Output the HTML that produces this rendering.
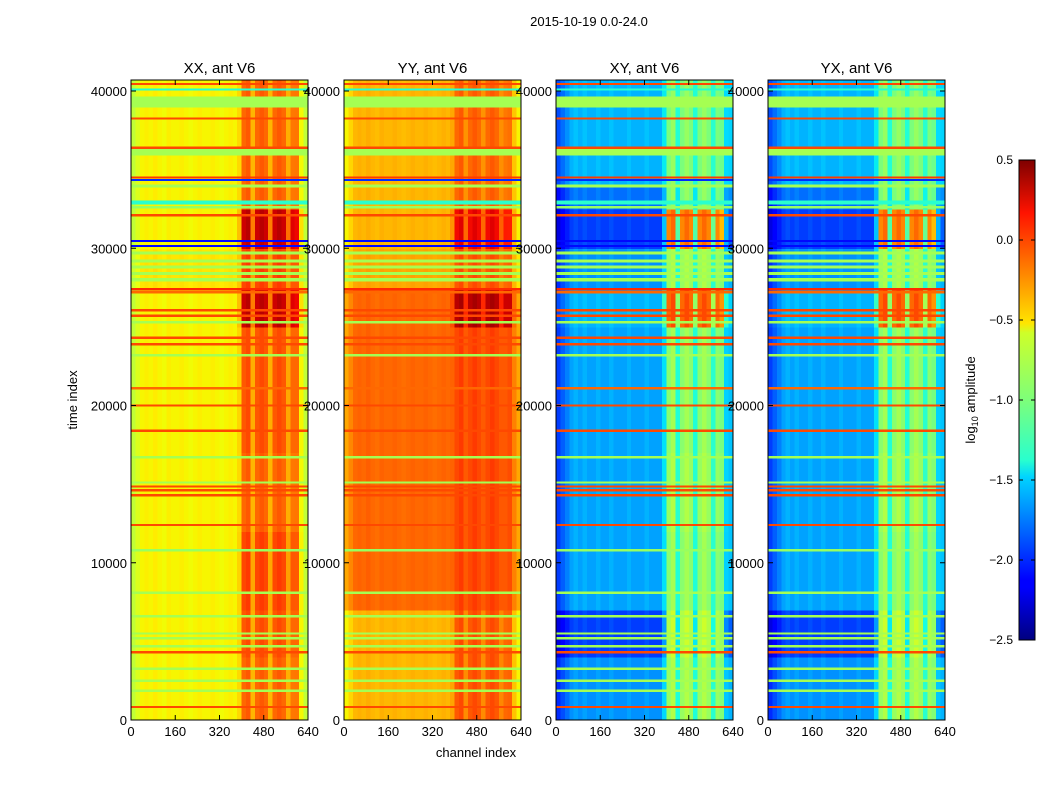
<!DOCTYPE html>
<html><head><meta charset="utf-8"><style>
body{margin:0;background:#fff;}
svg{display:block;font-family:"Liberation Sans","DejaVu Sans",sans-serif;}
</style></head><body>
<svg id="chart" width="1050" height="800" viewBox="0 0 1050 800" xmlns="http://www.w3.org/2000/svg">
<defs>
<linearGradient id="jet" x1="0" y1="1" x2="0" y2="0">
<stop offset="0" stop-color="#00007f"/><stop offset="0.11" stop-color="#0000ff"/>
<stop offset="0.125" stop-color="#0000ff"/><stop offset="0.34" stop-color="#00d4ff"/>
<stop offset="0.375" stop-color="#29ffce"/><stop offset="0.5" stop-color="#7dff7a"/>
<stop offset="0.64" stop-color="#ceff29"/><stop offset="0.66" stop-color="#ffe500"/>
<stop offset="0.89" stop-color="#ff1300"/><stop offset="1" stop-color="#7f0000"/>
</linearGradient>
</defs>
<text x="589" y="26" font-size="13" text-anchor="middle">2015-10-19 0.0-24.0</text>
<text transform="translate(77,400) rotate(-90)" font-size="13" text-anchor="middle">time index</text>
<text x="476" y="757" font-size="13" text-anchor="middle">channel index</text>
<g id="panels"></g>
<g>
<rect x="1019" y="160" width="16" height="480" fill="url(#jet)" stroke="#000" stroke-width="1"/>
<g id="cbticks"></g>
<text transform="translate(975,400) rotate(-90)" font-size="13" text-anchor="middle">log<tspan font-size="9" dy="3">10</tspan><tspan dy="-3"> amplitude</tspan></text>
</g>
</svg>
<script>
// ---- data ----
const panelTitles = ["XX, ant V6","YY, ant V6","XY, ant V6","YX, ant V6"];
const xTicks = [0,160,320,480,640];
const yTicks = [0,10000,20000,30000,40000];
const cbTicks = [-2.5,-2.0,-1.5,-1.0,-0.5,0.0,0.5];
const segBounds = [0,4000,7000,12000,17000,25000,27500,30000,32500,34000,40700];
// column weight per 16-channel bin: 1 = RFI band, fractional = narrow gap
const rfiMask = [0,0,0,0,0,0,0,0,0,0,0,0,0,0,0,0,0,0,0,0,0,0,0,0,0.2,1,1,0.45,1,1,1,0.45,1,1,1,0.5,1,0.9,0.2,0];
const colVarAuto = [-0.2,-0.1,0,0.02,0,0.03,0,-0.02,0.02,0,0,0.02,0,-0.02,0,0.02,0,0,0.02,0,-0.02,0,0.02,0,0,0,0.05,0,0,0.05,0,0,0,0.05,0,0,-0.05,0,-0.1,-0.2];
const colVarCross = [-0.3,-0.2,-0.1,0,0.05,0,0.05,0,0,0.05,0,0,0.05,0,0,0,0.05,0,0,0,0.05,0,0,0,0.05,0,0.1,0,0,0.1,0,0,0,0.1,0,0,0,0,0,0.1];
const baseXX = [-0.55,-0.55,-0.55,-0.55,-0.55,-0.55,-0.5,-0.55,-0.55,-0.55];
const rfiXX  = [-0.1,-0.05,0,-0.1,-0.05,0.3,0,0.3,-0.1,-0.1];
const baseYY = [-0.35,-0.35,-0.1,-0.1,-0.1,-0.1,-0.3,-0.35,-0.35,-0.35];
const rfiYY  = [-0.05,-0.05,0,0,0,0.35,-0.05,0.2,-0.1,-0.1];
const baseXY = [-1.7,-1.95,-1.65,-1.65,-1.65,-1.6,-1.7,-1.95,-1.8,-1.6];
const rfiXY  = [-0.9,-0.8,-0.95,-0.9,-0.95,-0.1,-0.9,-0.2,-1.0,-1.0];
const baseYX = [-1.7,-1.95,-1.65,-1.65,-1.65,-1.6,-1.7,-1.95,-1.8,-1.6];
const rfiYX  = [-0.9,-0.8,-0.95,-0.9,-0.95,-0.1,-0.9,-0.2,-1.0,-1.0];
// flagged rows: [time, height, log10 value]
const stripes = [[40450,150,0.0],[40100,150,-1.3],[39300,700,-0.85],[38250,150,0.0],[36400,150,0.0],[36100,400,-0.85],[34500,150,0.05],[34350,120,-2.0],[33950,200,-0.85],[32900,250,-1.3],[32600,150,-0.9],[32100,150,0.0],[30450,120,-2.1],[30150,120,-2.1],[29700,200,-0.85],[29200,200,-0.85],[28800,200,-0.85],[28400,200,-0.85],[28000,200,-0.85],[27400,150,0.1],[27200,150,-0.1],[26050,150,0.0],[25700,150,0.0],[25300,150,-0.85],[24300,150,0.0],[23900,150,0.0],[23200,150,-0.85],[21100,150,-0.1],[20000,150,0.0],[18400,150,0.0],[16700,150,-0.85],[15100,150,-0.85],[14850,150,0.0],[14600,150,0.0],[14300,150,0.0],[12400,150,0.0],[10800,150,-0.9],[8100,150,-0.85],[6600,150,-0.85],[5500,150,-0.85],[5200,150,-0.85],[4700,150,-0.85],[4300,150,0.0],[3250,150,-0.85],[2500,150,-0.85],[1850,150,-0.85],[830,150,0.0]];

const panelBase = [baseXX,baseYY,baseXY,baseYX];
const panelRfi = [rfiXX,rfiYY,rfiXY,rfiYX];
const panelColVar = [colVarAuto,colVarAuto,colVarCross,colVarCross];

// ---- layout ----
const panelX = [131,344,556,768], PW=177, TOP=80, BOT=720, TMAX=40700, CMAX=640, VMIN=-2.5, VMAX=0.5;
const NS="http://www.w3.org/2000/svg";
function xs(px,c){return px + c/CMAX*PW;}
function ys(t){return BOT - t/TMAX*(BOT-TOP);}
function jet(v){
  let x=(v-VMIN)/(VMAX-VMIN); x=Math.max(0,Math.min(1,x));
  const f=(a)=>Math.max(0,Math.min(1,a));
  const r=f(x<0.35?0:x<0.66?(x-0.35)/0.31:x<0.89?1:1-(x-0.89)/0.11*0.5);
  const g=f(x<0.125?0:x<0.375?(x-0.125)/0.25:x<0.64?1:x<0.91?1-(x-0.64)/0.27:0);
  const b=f(x<0.11?0.5+x/0.11*0.5:x<0.34?1:x<0.65?1-(x-0.34)/0.31:0);
  return `rgb(${Math.round(r*255)},${Math.round(g*255)},${Math.round(b*255)})`;
}
function mk(tag,attrs,parent){const e=document.createElementNS(NS,tag);for(const k in attrs)e.setAttribute(k,attrs[k]);parent.appendChild(e);return e;}

const G=document.getElementById('panels');
panelTitles.forEach((title,p)=>{
  const px=panelX[p];
  const g=mk('g',{},G);
  
  
  const hm=mk('g',{'shape-rendering':'crispEdges'},g);
  
  
  const bw=CMAX/rfiMask.length;
  for(let s=0;s<segBounds.length-1;s++){
    for(let c=0;c<rfiMask.length;c++){
      const b=panelBase[p][s], rf=panelRfi[p][s];
      const v=b+rfiMask[c]*(rf-b)+panelColVar[p][c];
      const x0=xs(px,c*bw), x1=xs(px,(c+1)*bw), y0=ys(segBounds[s+1]), y1=ys(segBounds[s]);
      const r=mk('rect',{x:x0,y:y0,width:x1-x0+0.5,height:y1-y0+0.5,fill:jet(v)},hm);
      
      
    }
  }
  stripes.forEach(st=>{
    const y0=ys(st[0]+st[1]/2), y1=ys(st[0]-st[1]/2);
    const r=mk('rect',{x:px,y:y0,width:PW,height:Math.max(1.5,y1-y0),fill:jet(st[2])},hm);
    
    
  });
  const fr=mk('rect',{x:px,y:TOP,width:PW,height:BOT-TOP,fill:'none',stroke:'#000','stroke-width':1},g);
  
  
  const t=mk('text',{x:px+PW/2,y:TOP-7,'font-size':15,'text-anchor':'middle'},g);
  t.textContent=title;
  
  
  xTicks.forEach(c=>{
    const x=xs(px,c);
    mk('line',{x1:x,x2:x,y1:BOT,y2:BOT-5,stroke:'#000'},g);
    mk('line',{x1:x,x2:x,y1:TOP,y2:TOP+5,stroke:'#000'},g);
    const l=mk('text',{x:x,y:BOT+16,'font-size':13,'text-anchor':'middle'},g);
    l.textContent=c;
    
    
  });
  yTicks.forEach(v=>{
    const y=ys(v);
    mk('line',{x1:px,x2:px+5,y1:y,y2:y,stroke:'#000'},g);
    mk('line',{x1:px+PW,x2:px+PW-5,y1:y,y2:y,stroke:'#000'},g);
    const l=mk('text',{x:px-4,y:y+5,'font-size':13,'text-anchor':'end'},g);
    l.textContent=v;
    
    
  });
});
const CB=document.getElementById('cbticks');
cbTicks.forEach(v=>{
  const y=640-(v-VMIN)/(VMAX-VMIN)*480;
  mk('line',{x1:1019,x2:1023,y1:y,y2:y,stroke:'#000'},CB);
  mk('line',{x1:1035,x2:1031,y1:y,y2:y,stroke:'#000'},CB);
  const l=mk('text',{x:1013,y:y+4,'font-size':12,'text-anchor':'end'},CB);
  l.textContent=(v<0?'\u2212':'')+Math.abs(v).toFixed(1);
  
  
});
</script>
</body></html>
